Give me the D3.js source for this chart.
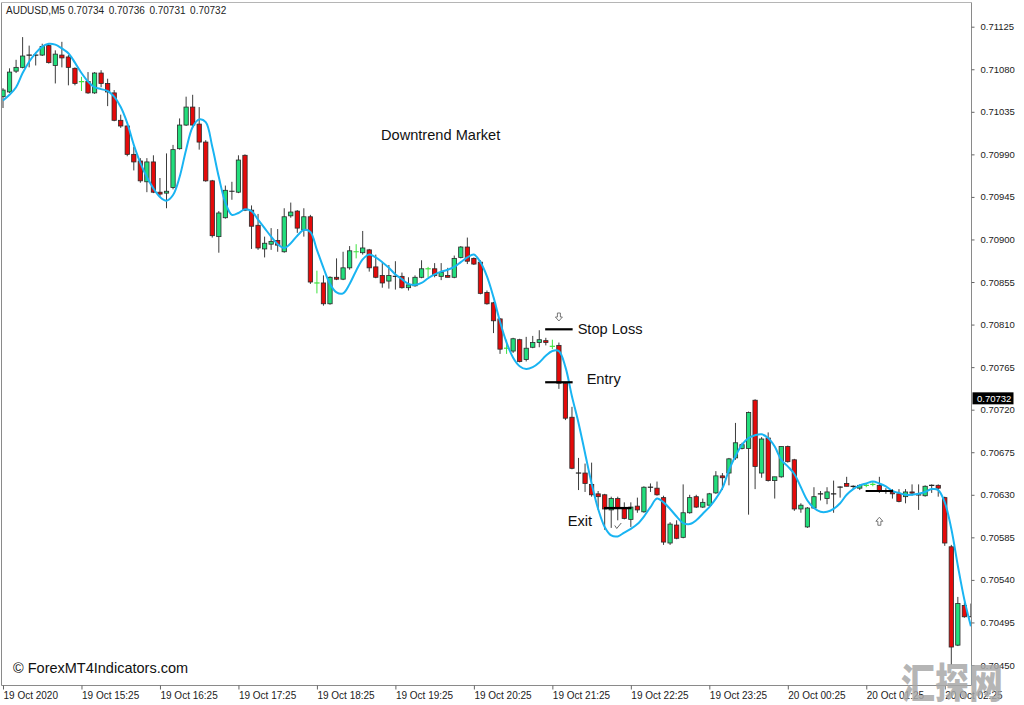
<!DOCTYPE html>
<html><head><meta charset="utf-8">
<script src="https://cdn.jsdelivr.net/npm/d3@7"></script>
<style>body{margin:0;background:#fff}svg{display:block}</style>
</head><body><svg id="c" width="1024" height="705"></svg>
<script>
// ---------------- DATA ----------------
const symbolHeader = "AUDUSD,M5";
const headerQuote = [0.70734, 0.70736, 0.70731, 0.70732];
const currentPrice = 0.70732;

const opens = [
0.71051,0.71056,0.71078,0.71082,0.71095,0.71095,0.71095,0.71105,0.71084,0.71095,
0.71093,0.71081,0.71067,0.71067,0.71055,0.71076,0.71065,0.71055,0.71026,0.71020,
0.70990,0.70983,0.70961,0.70982,0.70950,0.70949,0.70955,0.70996,0.71021,0.71040,
0.71022,0.71003,0.70962,0.70903,0.70923,0.70951,0.70950,0.70989,0.70931,0.70915,
0.70890,0.70895,0.70899,0.70887,0.70925,0.70930,0.70910,0.70924,0.70854,0.70854,
0.70832,0.70860,0.70858,0.70870,0.70887,0.70886,0.70889,0.70871,0.70862,0.70856,
0.70861,0.70861,0.70849,0.70851,0.70860,0.70869,0.70869,0.70861,0.70862,0.70860,
0.70881,0.70892,0.70880,0.70876,0.70844,0.70833,0.70816,0.70785,0.70782,0.70794,
0.70773,0.70786,0.70791,0.70793,0.70787,0.70788,0.70748,0.70712,0.70653,0.70653,
0.70641,0.70631,0.70630,0.70614,0.70626,0.70616,0.70604,0.70618,0.70612,0.70638,
0.70637,0.70627,0.70579,0.70598,0.70585,0.70611,0.70628,0.70617,0.70619,0.70632,
0.70650,0.70653,0.70669,0.70679,0.70679,0.70730,0.70653,0.70690,0.70645,0.70649,
0.70681,0.70667,0.70615,0.70596,0.70616,0.70631,0.70626,0.70631,0.70638,0.70642,
0.70639,0.70637,0.70640,0.70641,0.70640,0.70634,0.70633,0.70631,0.70628,0.70633,
0.70630,0.70629,0.70640,0.70640,0.70627,0.70575,0.70471,0.70513,0.70501];

const highs = [
0.71060,0.71081,0.71090,0.71114,0.71105,0.71098,0.71107,0.71107,0.71100,0.71109,
0.71095,0.71082,0.71072,0.71077,0.71077,0.71079,0.71070,0.71058,0.71032,0.71021,
0.70998,0.70986,0.70986,0.70989,0.70965,0.70991,0.71000,0.71028,0.71051,0.71053,
0.71040,0.71005,0.70963,0.70930,0.70957,0.70961,0.70989,0.70990,0.70936,0.70927,
0.70903,0.70912,0.70911,0.70933,0.70939,0.70931,0.70933,0.70926,0.70867,0.70862,
0.70861,0.70880,0.70887,0.70893,0.70895,0.70909,0.70890,0.70884,0.70876,0.70873,
0.70877,0.70865,0.70860,0.70862,0.70878,0.70871,0.70875,0.70875,0.70870,0.70883,
0.70893,0.70902,0.70881,0.70878,0.70846,0.70834,0.70817,0.70794,0.70796,0.70795,
0.70797,0.70798,0.70804,0.70796,0.70794,0.70791,0.70749,0.70723,0.70669,0.70663,
0.70664,0.70634,0.70631,0.70628,0.70628,0.70622,0.70622,0.70627,0.70639,0.70642,
0.70644,0.70629,0.70601,0.70603,0.70641,0.70630,0.70630,0.70626,0.70632,0.70655,
0.70653,0.70669,0.70706,0.70685,0.70718,0.70731,0.70691,0.70696,0.70649,0.70681,
0.70682,0.70668,0.70621,0.70617,0.70638,0.70634,0.70638,0.70645,0.70639,0.70649,
0.70640,0.70641,0.70642,0.70644,0.70649,0.70637,0.70636,0.70636,0.70636,0.70641,
0.70641,0.70640,0.70641,0.70641,0.70628,0.70577,0.70522,0.70516,0.70515];

const lows = [
0.71039,0.71055,0.71076,0.71081,0.71082,0.71084,0.71094,0.71086,0.71065,0.71082,
0.71063,0.71063,0.71057,0.71054,0.71054,0.71061,0.71041,0.71025,0.71018,0.70988,
0.70973,0.70960,0.70950,0.70949,0.70945,0.70933,0.70953,0.70995,0.71020,0.71018,
0.70995,0.70961,0.70902,0.70886,0.70922,0.70942,0.70949,0.70930,0.70890,0.70889,
0.70881,0.70889,0.70887,0.70886,0.70923,0.70907,0.70903,0.70853,0.70843,0.70830,
0.70831,0.70857,0.70857,0.70868,0.70880,0.70884,0.70866,0.70859,0.70849,0.70848,
0.70847,0.70848,0.70846,0.70850,0.70859,0.70860,0.70860,0.70857,0.70860,0.70859,
0.70880,0.70874,0.70873,0.70842,0.70831,0.70801,0.70779,0.70779,0.70780,0.70770,
0.70771,0.70785,0.70786,0.70788,0.70784,0.70742,0.70709,0.70657,0.70635,0.70633,
0.70628,0.70614,0.70593,0.70595,0.70603,0.70604,0.70596,0.70611,0.70611,0.70633,
0.70629,0.70577,0.70577,0.70583,0.70584,0.70610,0.70616,0.70616,0.70618,0.70631,
0.70635,0.70640,0.70667,0.70678,0.70609,0.70636,0.70648,0.70644,0.70626,0.70648,
0.70664,0.70613,0.70611,0.70595,0.70615,0.70624,0.70620,0.70611,0.70627,0.70639,
0.70636,0.70635,0.70638,0.70639,0.70632,0.70631,0.70626,0.70622,0.70621,0.70629,
0.70614,0.70628,0.70632,0.70628,0.70576,0.70450,0.70470,0.70500,0.70501];

const closes = [
0.71058,0.71077,0.71082,0.71094,0.71095,0.71095,0.71104,0.71087,0.71096,0.71092,
0.71082,0.71065,0.71067,0.71055,0.71076,0.71065,0.71056,0.71026,0.71020,0.70990,
0.70982,0.70962,0.70982,0.70950,0.70948,0.70951,0.70995,0.71021,0.71040,0.71021,
0.71003,0.70962,0.70904,0.70928,0.70952,0.70951,0.70984,0.70931,0.70914,0.70891,
0.70896,0.70898,0.70894,0.70924,0.70929,0.70912,0.70924,0.70855,0.70854,0.70832,
0.70860,0.70858,0.70870,0.70888,0.70887,0.70891,0.70870,0.70860,0.70854,0.70862,
0.70861,0.70849,0.70852,0.70860,0.70869,0.70869,0.70862,0.70865,0.70860,0.70880,
0.70892,0.70877,0.70874,0.70843,0.70832,0.70814,0.70784,0.70785,0.70795,0.70771,
0.70785,0.70791,0.70794,0.70791,0.70787,0.70748,0.70711,0.70658,0.70653,0.70642,
0.70630,0.70628,0.70615,0.70626,0.70616,0.70605,0.70617,0.70614,0.70638,0.70638,
0.70630,0.70580,0.70599,0.70584,0.70611,0.70627,0.70617,0.70622,0.70631,0.70650,
0.70648,0.70668,0.70685,0.70683,0.70717,0.70660,0.70689,0.70645,0.70649,0.70681,
0.70665,0.70615,0.70619,0.70616,0.70628,0.70631,0.70633,0.70631,0.70638,0.70639,
0.70639,0.70640,0.70640,0.70641,0.70634,0.70634,0.70631,0.70623,0.70633,0.70632,
0.70630,0.70639,0.70640,0.70637,0.70579,0.70469,0.70515,0.70501,0.70501];

const maValues = [
0.71047,0.71053,0.71061,0.71076,0.71088,0.71097,0.71104,0.71107,0.71106,0.71102,
0.71097,0.71087,0.71076,0.71067,0.71061,0.71059,0.71057,0.71051,0.71040,0.71023,
0.71000,0.70981,0.70966,0.70954,0.70945,0.70941,0.70947,0.70966,0.70995,0.71019,
0.71027,0.71024,0.70998,0.70966,0.70939,0.70926,0.70928,0.70932,0.70930,0.70921,
0.70912,0.70903,0.70895,0.70891,0.70896,0.70904,0.70910,0.70908,0.70889,0.70870,
0.70853,0.70844,0.70843,0.70853,0.70867,0.70879,0.70884,0.70881,0.70876,0.70870,
0.70863,0.70858,0.70853,0.70852,0.70854,0.70859,0.70863,0.70866,0.70868,0.70871,
0.70876,0.70881,0.70884,0.70876,0.70861,0.70839,0.70813,0.70791,0.70775,0.70766,
0.70763,0.70765,0.70770,0.70777,0.70782,0.70782,0.70765,0.70734,0.70706,0.70674,
0.70642,0.70615,0.70596,0.70587,0.70586,0.70590,0.70594,0.70599,0.70607,0.70617,
0.70626,0.70622,0.70615,0.70607,0.70600,0.70599,0.70603,0.70610,0.70617,0.70626,
0.70637,0.70656,0.70671,0.70683,0.70690,0.70693,0.70694,0.70690,0.70681,0.70667,
0.70660,0.70652,0.70638,0.70624,0.70616,0.70612,0.70612,0.70615,0.70621,0.70630,
0.70636,0.70640,0.70642,0.70644,0.70642,0.70639,0.70634,0.70632,0.70630,0.70630,
0.70631,0.70633,0.70636,0.70635,0.70622,0.70594,0.70555,0.70519,0.70491];

const greenCrossBars = [12, 48, 54, 65, 77, 84, 132, 133];

const priceTicks = [0.71125,0.71080,0.71035,0.70990,0.70945,0.70900,0.70855,0.70810,
                    0.70765,0.70720,0.70675,0.70630,0.70585,0.70540,0.70495,0.70450];
const timeTickBars = [0,12,24,36,48,60,72,84,96,108,120,132,144];
const timeTickLabels = ["19 Oct 2020","19 Oct 15:25","19 Oct 16:25","19 Oct 17:25","19 Oct 18:25",
  "19 Oct 19:25","19 Oct 20:25","19 Oct 21:25","19 Oct 22:25","19 Oct 23:25",
  "20 Oct 00:25","20 Oct 01:25","20 Oct 02:25"];

const levelBars = [85, 85, 94, 134];
const levelPrices = [0.70805, 0.70749, 0.70616, 0.70634];
const levelLabels = ["Stop Loss", "Entry", "Exit", ""];

// signal arrows: direction -1 = down (sell stop), +1 = up
const arrowBars = [85, 134];
const arrowPrices = [0.70818, 0.70602];
const arrowDirs = [-1, 1];
const checkBars = [94];
const checkPrices = [0.70597];

const titleText = "Downtrend Market";
const copyrightText = "\u00A9 ForexMT4Indicators.com";
const watermarkText = "汇探网";

// ---------------- CHART ----------------
const svg = d3.select("#c");
const FONT = "'Liberation Sans', Arial, sans-serif";
const plotL = 1.5, plotR = 971.5, plotT = 2.5, plotB = 685.5;

const nBars = opens.length;
const x = d3.scaleLinear().domain([0, 148]).range([3, 3 + 6.54 * 148]);
const y = d3.scaleLinear().domain([0.70450, 0.71125]).range([665, 26.7]);
const step = x(1) - x(0);
const bodyW = step * 0.66;

svg.append("rect").attr("width", 1024).attr("height", 705).attr("fill", "#fff");

svg.append("defs").append("clipPath").attr("id", "plotClip")
  .append("rect").attr("x", plotL).attr("y", plotT).attr("width", plotR - plotL).attr("height", plotB - plotT);

const plot = svg.append("g").attr("clip-path", "url(#plotClip)");

const bars = d3.range(nBars).map(i => ({i, o: opens[i], h: highs[i], l: lows[i], c: closes[i],
  cross: greenCrossBars.includes(i)}));

// wicks
plot.append("g").selectAll("line").data(bars).join("line")
  .attr("x1", d => x(d.i)).attr("x2", d => x(d.i))
  .attr("y1", d => y(d.h)).attr("y2", d => y(d.l))
  .attr("stroke", d => d.cross ? "#3fe23f" : "#3c3c3c").attr("stroke-width", 1);

// bodies
plot.append("g").selectAll("rect").data(bars.filter(d => d.o !== d.c)).join("rect")
  .attr("x", d => x(d.i) - bodyW / 2)
  .attr("y", d => y(Math.max(d.o, d.c)))
  .attr("width", bodyW)
  .attr("height", d => Math.max(1.2, Math.abs(y(d.o) - y(d.c))))
  .attr("fill", d => d.c > d.o ? "#22de7c" : "#e50a0a")
  .attr("stroke", "#2a2a2a").attr("stroke-width", 0.8);

// dojis
plot.append("g").selectAll("line").data(bars.filter(d => d.o === d.c)).join("line")
  .attr("x1", d => x(d.i) - bodyW / 2 - 0.5).attr("x2", d => x(d.i) + bodyW / 2 + 0.5)
  .attr("y1", d => y(d.o)).attr("y2", d => y(d.o))
  .attr("stroke", d => d.cross ? "#3fe23f" : "#222").attr("stroke-width", 1.2);

// moving-average line
plot.append("path").datum(maValues)
  .attr("d", d3.line().x((d, i) => x(i)).y(d => y(d)).curve(d3.curveCatmullRom.alpha(0.5)))
  .attr("fill", "none").attr("stroke", "#19b4f2").attr("stroke-width", 2);

// trade level lines
const halfLen = 2.1;
const lvl = levelBars.map((b, k) => ({b, p: levelPrices[k], t: levelLabels[k]}));
plot.append("g").selectAll("line").data(lvl)
  .join("line")
  .attr("x1", d => x(d.b - halfLen)).attr("x2", d => x(d.b + halfLen))
  .attr("y1", d => y(d.p)).attr("y2", d => y(d.p))
  .attr("stroke", "#000").attr("stroke-width", 2.2);

// level labels
const LBL = 14.6;
svg.append("text").text(lvl[0].t).attr("x", x(lvl[0].b + halfLen) + 5).attr("y", y(lvl[0].p) + 5)
  .attr("font-family", FONT).attr("font-size", LBL).attr("fill", "#111");
svg.append("text").text(lvl[1].t).attr("x", x(lvl[1].b + halfLen) + 14).attr("y", y(lvl[1].p) + 2)
  .attr("font-family", FONT).attr("font-size", LBL).attr("fill", "#111");
svg.append("text").text(lvl[2].t).attr("x", x(lvl[2].b - halfLen) - 12).attr("y", y(lvl[2].p) + 18)
  .attr("text-anchor", "end").attr("font-family", FONT).attr("font-size", LBL).attr("fill", "#111");

// hollow arrows (drawn as outline paths)
const arrowShape = "M-1.5,-4 L1.5,-4 L1.5,0 L3.5,0 L0,4 L-3.5,0 L-1.5,0 Z"; // pointing down
plot.append("g").selectAll("path")
  .data(arrowBars.map((b, k) => ({b, p: arrowPrices[k], dir: arrowDirs[k]})))
  .join("path")
  .attr("d", arrowShape)
  .attr("transform", d => `translate(${x(d.b)},${y(d.p)}) scale(1,${d.dir < 0 ? 1 : -1})`)
  .attr("fill", "#fff").attr("stroke", "#6a6a6a").attr("stroke-width", 0.9);

// check mark (exit)
plot.append("g").selectAll("path")
  .data(checkBars.map((b, k) => ({b, p: checkPrices[k]})))
  .join("path")
  .attr("d", "M-3,-0.5 L-1,2.5 L3.5,-3")
  .attr("transform", d => `translate(${x(d.b)},${y(d.p)})`)
  .attr("fill", "none").attr("stroke", "#666").attr("stroke-width", 1);

// title
svg.append("text").text(titleText).attr("x", 381).attr("y", 140)
  .attr("font-family", FONT).attr("font-size", 14.6).attr("fill", "#111");

// header
svg.append("text").text(symbolHeader).attr("x", 6).attr("y", 14)
  .attr("font-family", FONT).attr("font-size", 10).attr("fill", "#222");
svg.append("g").selectAll("text").data(headerQuote).join("text")
  .attr("x", (d, i) => 68 + i * 40.7).attr("y", 14)
  .attr("font-family", FONT).attr("font-size", 10).attr("fill", "#222")
  .text(d => d.toFixed(5));

// frame
svg.append("line").attr("x1", plotL).attr("x2", plotL).attr("y1", plotT).attr("y2", plotB)
  .attr("stroke", "#8a8a8a").attr("stroke-width", 1);
svg.append("line").attr("x1", plotL).attr("x2", plotR).attr("y1", plotT).attr("y2", plotT)
  .attr("stroke", "#b5b5b5").attr("stroke-width", 1);
svg.append("line").attr("x1", plotR).attr("x2", plotR).attr("y1", plotT).attr("y2", plotB)
  .attr("stroke", "#8a8a8a").attr("stroke-width", 1);
svg.append("line").attr("x1", plotL).attr("x2", plotR).attr("y1", plotB).attr("y2", plotB)
  .attr("stroke", "#8a8a8a").attr("stroke-width", 1);

// right price axis
const yAxis = svg.append("g").attr("transform", `translate(${plotR},0)`)
  .call(d3.axisRight(y).tickValues(priceTicks).tickSize(3).tickPadding(6).tickFormat(d3.format(".5f")));
yAxis.select(".domain").remove();
yAxis.selectAll("line").attr("stroke", "#666");
yAxis.selectAll("text").attr("font-family", FONT).attr("font-size", 9.5).attr("fill", "#222");

// bottom time axis
const xAxis = svg.append("g").attr("transform", `translate(0,${plotB})`)
  .call(d3.axisBottom(x).tickValues(timeTickBars).tickSize(4).tickPadding(2)
    .tickFormat((d, i) => timeTickLabels[i]));
xAxis.select(".domain").remove();
xAxis.selectAll("line").attr("stroke", "#666");
xAxis.selectAll("text").attr("text-anchor", "start").attr("dx", 0)
  .attr("font-family", FONT).attr("font-size", 10).attr("fill", "#222");

// current price label
const cpY = y(currentPrice);
svg.append("rect").attr("x", 972.5).attr("y", cpY - 6).attr("width", 41).attr("height", 12).attr("fill", "#000");
svg.append("text").text(currentPrice.toFixed(5)).attr("x", 977).attr("y", cpY + 3.5)
  .attr("font-family", FONT).attr("font-size", 9.5).attr("fill", "#fff");

// copyright
svg.append("text").text(copyrightText).attr("x", 13).attr("y", 673)
  .attr("font-family", FONT).attr("font-size", 14.5).attr("fill", "#111");

// watermark (overlaps the axis corner as in the source picture)
svg.append("text").text(watermarkText)
  .attr("transform", "translate(901,698) scale(1,1.22)")
  .attr("font-family", "'Noto Sans CJK SC', sans-serif").attr("font-weight", 900)
  .attr("font-size", 34).attr("fill", "#a8a8a8").attr("fill-opacity", 0.85);
</script></body></html>
